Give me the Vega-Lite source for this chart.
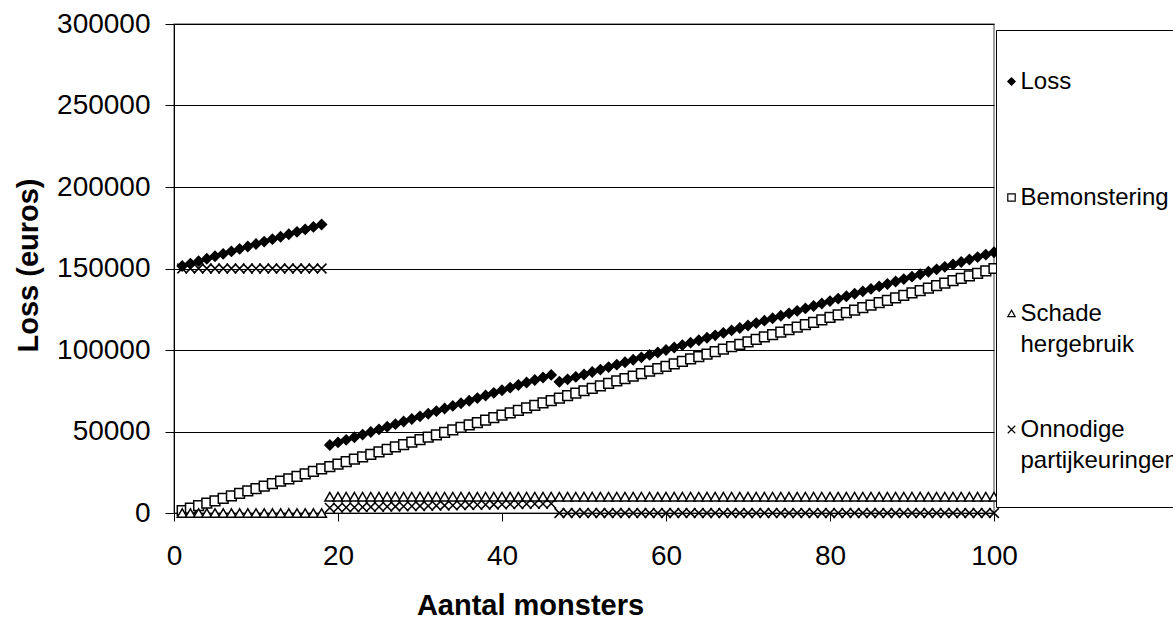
{
  "$schema": "https://vega.github.io/schema/vega-lite/v6.json",
  "autosize": "none",
  "width": 820,
  "height": 489,
  "padding": {"left": 174, "top": 24, "right": 179, "bottom": 106},
  "background": "white",
  "config": {
    "font": "Liberation Sans",
    "view": {"stroke": "#808080", "strokeWidth": 1.5},
    "style": {"guide-label": {"lineHeight": 31}},
    "legend": {
      "orient": "none", "legendX": 822, "legendY": 6, "gridAlign": "each",
      "titleOrient": "top", "titleFontSize": 1, "titlePadding": 35,
      "labelFontSize": 24, "labelColor": "black", "labelLimit": 0, "labelBaseline": "middle",
      "labelOffset": -3, "symbolOffset": 0, "symbolSize": 55, "symbolStrokeColor": "black", "symbolStrokeWidth": 1.2,
      "padding": 3.5, "rowPadding": 61, "strokeColor": "black", "fillColor": "white"
    }
  },
  "data": {"values": [
    {"n":1,"Loss":151500,"Bemonstering":1500,"Schade hergebruik":0,"Onnodige partijkeuringen":150000},
    {"n":2,"Loss":153000,"Bemonstering":3000,"Schade hergebruik":0,"Onnodige partijkeuringen":150000},
    {"n":3,"Loss":154500,"Bemonstering":4500,"Schade hergebruik":0,"Onnodige partijkeuringen":150000},
    {"n":4,"Loss":156000,"Bemonstering":6000,"Schade hergebruik":0,"Onnodige partijkeuringen":150000},
    {"n":5,"Loss":157500,"Bemonstering":7500,"Schade hergebruik":0,"Onnodige partijkeuringen":150000},
    {"n":6,"Loss":159000,"Bemonstering":9000,"Schade hergebruik":0,"Onnodige partijkeuringen":150000},
    {"n":7,"Loss":160500,"Bemonstering":10500,"Schade hergebruik":0,"Onnodige partijkeuringen":150000},
    {"n":8,"Loss":162000,"Bemonstering":12000,"Schade hergebruik":0,"Onnodige partijkeuringen":150000},
    {"n":9,"Loss":163500,"Bemonstering":13500,"Schade hergebruik":0,"Onnodige partijkeuringen":150000},
    {"n":10,"Loss":165000,"Bemonstering":15000,"Schade hergebruik":0,"Onnodige partijkeuringen":150000},
    {"n":11,"Loss":166500,"Bemonstering":16500,"Schade hergebruik":0,"Onnodige partijkeuringen":150000},
    {"n":12,"Loss":168000,"Bemonstering":18000,"Schade hergebruik":0,"Onnodige partijkeuringen":150000},
    {"n":13,"Loss":169500,"Bemonstering":19500,"Schade hergebruik":0,"Onnodige partijkeuringen":150000},
    {"n":14,"Loss":171000,"Bemonstering":21000,"Schade hergebruik":0,"Onnodige partijkeuringen":150000},
    {"n":15,"Loss":172500,"Bemonstering":22500,"Schade hergebruik":0,"Onnodige partijkeuringen":150000},
    {"n":16,"Loss":174000,"Bemonstering":24000,"Schade hergebruik":0,"Onnodige partijkeuringen":150000},
    {"n":17,"Loss":175500,"Bemonstering":25500,"Schade hergebruik":0,"Onnodige partijkeuringen":150000},
    {"n":18,"Loss":177000,"Bemonstering":27000,"Schade hergebruik":0,"Onnodige partijkeuringen":150000},
    {"n":19,"Loss":41700,"Bemonstering":28500,"Schade hergebruik":10000,"Onnodige partijkeuringen":3200},
    {"n":20,"Loss":43300,"Bemonstering":30000,"Schade hergebruik":10000,"Onnodige partijkeuringen":3300},
    {"n":21,"Loss":44900,"Bemonstering":31500,"Schade hergebruik":10000,"Onnodige partijkeuringen":3400},
    {"n":22,"Loss":46500,"Bemonstering":33000,"Schade hergebruik":10000,"Onnodige partijkeuringen":3500},
    {"n":23,"Loss":48100,"Bemonstering":34500,"Schade hergebruik":10000,"Onnodige partijkeuringen":3600},
    {"n":24,"Loss":49700,"Bemonstering":36000,"Schade hergebruik":10000,"Onnodige partijkeuringen":3700},
    {"n":25,"Loss":51300,"Bemonstering":37500,"Schade hergebruik":10000,"Onnodige partijkeuringen":3800},
    {"n":26,"Loss":52900,"Bemonstering":39000,"Schade hergebruik":10000,"Onnodige partijkeuringen":3900},
    {"n":27,"Loss":54500,"Bemonstering":40500,"Schade hergebruik":10000,"Onnodige partijkeuringen":4000},
    {"n":28,"Loss":56100,"Bemonstering":42000,"Schade hergebruik":10000,"Onnodige partijkeuringen":4100},
    {"n":29,"Loss":57700,"Bemonstering":43500,"Schade hergebruik":10000,"Onnodige partijkeuringen":4200},
    {"n":30,"Loss":59300,"Bemonstering":45000,"Schade hergebruik":10000,"Onnodige partijkeuringen":4300},
    {"n":31,"Loss":60900,"Bemonstering":46500,"Schade hergebruik":10000,"Onnodige partijkeuringen":4400},
    {"n":32,"Loss":62500,"Bemonstering":48000,"Schade hergebruik":10000,"Onnodige partijkeuringen":4500},
    {"n":33,"Loss":64100,"Bemonstering":49500,"Schade hergebruik":10000,"Onnodige partijkeuringen":4600},
    {"n":34,"Loss":65700,"Bemonstering":51000,"Schade hergebruik":10000,"Onnodige partijkeuringen":4700},
    {"n":35,"Loss":67300,"Bemonstering":52500,"Schade hergebruik":10000,"Onnodige partijkeuringen":4800},
    {"n":36,"Loss":68900,"Bemonstering":54000,"Schade hergebruik":10000,"Onnodige partijkeuringen":4900},
    {"n":37,"Loss":70500,"Bemonstering":55500,"Schade hergebruik":10000,"Onnodige partijkeuringen":5000},
    {"n":38,"Loss":72100,"Bemonstering":57000,"Schade hergebruik":10000,"Onnodige partijkeuringen":5100},
    {"n":39,"Loss":73700,"Bemonstering":58500,"Schade hergebruik":10000,"Onnodige partijkeuringen":5200},
    {"n":40,"Loss":75300,"Bemonstering":60000,"Schade hergebruik":10000,"Onnodige partijkeuringen":5300},
    {"n":41,"Loss":76900,"Bemonstering":61500,"Schade hergebruik":10000,"Onnodige partijkeuringen":5400},
    {"n":42,"Loss":78500,"Bemonstering":63000,"Schade hergebruik":10000,"Onnodige partijkeuringen":5500},
    {"n":43,"Loss":80050,"Bemonstering":64500,"Schade hergebruik":10000,"Onnodige partijkeuringen":5550},
    {"n":44,"Loss":81600,"Bemonstering":66000,"Schade hergebruik":10000,"Onnodige partijkeuringen":5600},
    {"n":45,"Loss":83150,"Bemonstering":67500,"Schade hergebruik":10000,"Onnodige partijkeuringen":5650},
    {"n":46,"Loss":84700,"Bemonstering":69000,"Schade hergebruik":10000,"Onnodige partijkeuringen":5700},
    {"n":47,"Loss":80500,"Bemonstering":70500,"Schade hergebruik":10000,"Onnodige partijkeuringen":0},
    {"n":48,"Loss":82000,"Bemonstering":72000,"Schade hergebruik":10000,"Onnodige partijkeuringen":0},
    {"n":49,"Loss":83500,"Bemonstering":73500,"Schade hergebruik":10000,"Onnodige partijkeuringen":0},
    {"n":50,"Loss":85000,"Bemonstering":75000,"Schade hergebruik":10000,"Onnodige partijkeuringen":0},
    {"n":51,"Loss":86500,"Bemonstering":76500,"Schade hergebruik":10000,"Onnodige partijkeuringen":0},
    {"n":52,"Loss":88000,"Bemonstering":78000,"Schade hergebruik":10000,"Onnodige partijkeuringen":0},
    {"n":53,"Loss":89500,"Bemonstering":79500,"Schade hergebruik":10000,"Onnodige partijkeuringen":0},
    {"n":54,"Loss":91000,"Bemonstering":81000,"Schade hergebruik":10000,"Onnodige partijkeuringen":0},
    {"n":55,"Loss":92500,"Bemonstering":82500,"Schade hergebruik":10000,"Onnodige partijkeuringen":0},
    {"n":56,"Loss":94000,"Bemonstering":84000,"Schade hergebruik":10000,"Onnodige partijkeuringen":0},
    {"n":57,"Loss":95500,"Bemonstering":85500,"Schade hergebruik":10000,"Onnodige partijkeuringen":0},
    {"n":58,"Loss":97000,"Bemonstering":87000,"Schade hergebruik":10000,"Onnodige partijkeuringen":0},
    {"n":59,"Loss":98500,"Bemonstering":88500,"Schade hergebruik":10000,"Onnodige partijkeuringen":0},
    {"n":60,"Loss":100000,"Bemonstering":90000,"Schade hergebruik":10000,"Onnodige partijkeuringen":0},
    {"n":61,"Loss":101500,"Bemonstering":91500,"Schade hergebruik":10000,"Onnodige partijkeuringen":0},
    {"n":62,"Loss":103000,"Bemonstering":93000,"Schade hergebruik":10000,"Onnodige partijkeuringen":0},
    {"n":63,"Loss":104500,"Bemonstering":94500,"Schade hergebruik":10000,"Onnodige partijkeuringen":0},
    {"n":64,"Loss":106000,"Bemonstering":96000,"Schade hergebruik":10000,"Onnodige partijkeuringen":0},
    {"n":65,"Loss":107500,"Bemonstering":97500,"Schade hergebruik":10000,"Onnodige partijkeuringen":0},
    {"n":66,"Loss":109000,"Bemonstering":99000,"Schade hergebruik":10000,"Onnodige partijkeuringen":0},
    {"n":67,"Loss":110500,"Bemonstering":100500,"Schade hergebruik":10000,"Onnodige partijkeuringen":0},
    {"n":68,"Loss":112000,"Bemonstering":102000,"Schade hergebruik":10000,"Onnodige partijkeuringen":0},
    {"n":69,"Loss":113500,"Bemonstering":103500,"Schade hergebruik":10000,"Onnodige partijkeuringen":0},
    {"n":70,"Loss":115000,"Bemonstering":105000,"Schade hergebruik":10000,"Onnodige partijkeuringen":0},
    {"n":71,"Loss":116500,"Bemonstering":106500,"Schade hergebruik":10000,"Onnodige partijkeuringen":0},
    {"n":72,"Loss":118000,"Bemonstering":108000,"Schade hergebruik":10000,"Onnodige partijkeuringen":0},
    {"n":73,"Loss":119500,"Bemonstering":109500,"Schade hergebruik":10000,"Onnodige partijkeuringen":0},
    {"n":74,"Loss":121000,"Bemonstering":111000,"Schade hergebruik":10000,"Onnodige partijkeuringen":0},
    {"n":75,"Loss":122500,"Bemonstering":112500,"Schade hergebruik":10000,"Onnodige partijkeuringen":0},
    {"n":76,"Loss":124000,"Bemonstering":114000,"Schade hergebruik":10000,"Onnodige partijkeuringen":0},
    {"n":77,"Loss":125500,"Bemonstering":115500,"Schade hergebruik":10000,"Onnodige partijkeuringen":0},
    {"n":78,"Loss":127000,"Bemonstering":117000,"Schade hergebruik":10000,"Onnodige partijkeuringen":0},
    {"n":79,"Loss":128500,"Bemonstering":118500,"Schade hergebruik":10000,"Onnodige partijkeuringen":0},
    {"n":80,"Loss":130000,"Bemonstering":120000,"Schade hergebruik":10000,"Onnodige partijkeuringen":0},
    {"n":81,"Loss":131500,"Bemonstering":121500,"Schade hergebruik":10000,"Onnodige partijkeuringen":0},
    {"n":82,"Loss":133000,"Bemonstering":123000,"Schade hergebruik":10000,"Onnodige partijkeuringen":0},
    {"n":83,"Loss":134500,"Bemonstering":124500,"Schade hergebruik":10000,"Onnodige partijkeuringen":0},
    {"n":84,"Loss":136000,"Bemonstering":126000,"Schade hergebruik":10000,"Onnodige partijkeuringen":0},
    {"n":85,"Loss":137500,"Bemonstering":127500,"Schade hergebruik":10000,"Onnodige partijkeuringen":0},
    {"n":86,"Loss":139000,"Bemonstering":129000,"Schade hergebruik":10000,"Onnodige partijkeuringen":0},
    {"n":87,"Loss":140500,"Bemonstering":130500,"Schade hergebruik":10000,"Onnodige partijkeuringen":0},
    {"n":88,"Loss":142000,"Bemonstering":132000,"Schade hergebruik":10000,"Onnodige partijkeuringen":0},
    {"n":89,"Loss":143500,"Bemonstering":133500,"Schade hergebruik":10000,"Onnodige partijkeuringen":0},
    {"n":90,"Loss":145000,"Bemonstering":135000,"Schade hergebruik":10000,"Onnodige partijkeuringen":0},
    {"n":91,"Loss":146500,"Bemonstering":136500,"Schade hergebruik":10000,"Onnodige partijkeuringen":0},
    {"n":92,"Loss":148000,"Bemonstering":138000,"Schade hergebruik":10000,"Onnodige partijkeuringen":0},
    {"n":93,"Loss":149500,"Bemonstering":139500,"Schade hergebruik":10000,"Onnodige partijkeuringen":0},
    {"n":94,"Loss":151000,"Bemonstering":141000,"Schade hergebruik":10000,"Onnodige partijkeuringen":0},
    {"n":95,"Loss":152500,"Bemonstering":142500,"Schade hergebruik":10000,"Onnodige partijkeuringen":0},
    {"n":96,"Loss":154000,"Bemonstering":144000,"Schade hergebruik":10000,"Onnodige partijkeuringen":0},
    {"n":97,"Loss":155500,"Bemonstering":145500,"Schade hergebruik":10000,"Onnodige partijkeuringen":0},
    {"n":98,"Loss":157000,"Bemonstering":147000,"Schade hergebruik":10000,"Onnodige partijkeuringen":0},
    {"n":99,"Loss":158500,"Bemonstering":148500,"Schade hergebruik":10000,"Onnodige partijkeuringen":0},
    {"n":100,"Loss":160000,"Bemonstering":150000,"Schade hergebruik":10000,"Onnodige partijkeuringen":0}
  ]},
  "transform": [
    {"fold": ["Loss", "Bemonstering", "Schade hergebruik", "Onnodige partijkeuringen"], "as": ["series", "value"]}
  ],
  "mark": {"type": "point", "strokeWidth": 1.5, "size": 95, "opacity": 1},
  "encoding": {
    "x": {
      "field": "n", "type": "quantitative",
      "scale": {"domain": [0, 100], "nice": false, "zero": false},
      "axis": {
        "values": [0, 20, 40, 60, 80, 100], "grid": false,
        "title": "Aantal monsters", "titleFontSize": 29, "titleFontWeight": "bold", "titleColor": "black",
        "titleX": 356, "titleY": 92, "titleBaseline": "middle", "titleAlign": "center", "titleAnchor": null,
        "labelFontSize": 28, "labelColor": "black", "labelFlush": false, "labelPadding": 21,
        "tickColor": "black", "tickSize": 8, "domainColor": "black", "domainWidth": 1
      }
    },
    "y": {
      "field": "value", "type": "quantitative",
      "scale": {"domain": [0, 300000], "nice": false},
      "axis": {
        "values": [0, 50000, 100000, 150000, 200000, 250000, 300000], "format": "d",
        "grid": true, "gridColor": "black", "gridWidth": 1, "gridOpacity": 1,
        "title": "Loss (euros)", "titleFontSize": 29, "titleFontWeight": "bold", "titleColor": "black",
        "titleX": -146, "titleY": 241, "titleBaseline": "middle", "titleAlign": "center", "titleAngle": -90, "titleAnchor": null,
        "labelFontSize": 28, "labelColor": "black", "labelPadding": 15,
        "tickColor": "black", "tickSize": 9, "domainColor": "black", "domainWidth": 1
      }
    },
    "shape": {
      "field": "series", "type": "nominal",
      "scale": {"domain": ["Loss", "Bemonstering", "Schade hergebruik", "Onnodige partijkeuringen"],
                "range": ["diamond", "square", "triangle-up", "M-1,-1L1,1M-1,1L1,-1"]},
      "legend": {
        "title": " ",
        "labelExpr": "datum.label == 'Schade hergebruik' ? ['Schade', 'hergebruik'] : datum.label == 'Onnodige partijkeuringen' ? ['Onnodige', 'partijkeuringen', ''] : [datum.label, '']"
      }
    },
    "fill": {
      "field": "series", "type": "nominal",
      "scale": {"domain": ["Loss", "Bemonstering", "Schade hergebruik", "Onnodige partijkeuringen"],
                "range": ["black", "white", "white", "transparent"]},
      "legend": {
        "title": " ",
        "labelExpr": "datum.label == 'Schade hergebruik' ? ['Schade', 'hergebruik'] : datum.label == 'Onnodige partijkeuringen' ? ['Onnodige', 'partijkeuringen', ''] : [datum.label, '']"
      }
    },
    "stroke": {
      "field": "series", "type": "nominal",
      "scale": {"domain": ["Loss", "Bemonstering", "Schade hergebruik", "Onnodige partijkeuringen"],
                "range": ["black", "black", "black", "black"]},
      "legend": {
        "title": " ",
        "labelExpr": "datum.label == 'Schade hergebruik' ? ['Schade', 'hergebruik'] : datum.label == 'Onnodige partijkeuringen' ? ['Onnodige', 'partijkeuringen', ''] : [datum.label, '']"
      }
    }
  }
}
